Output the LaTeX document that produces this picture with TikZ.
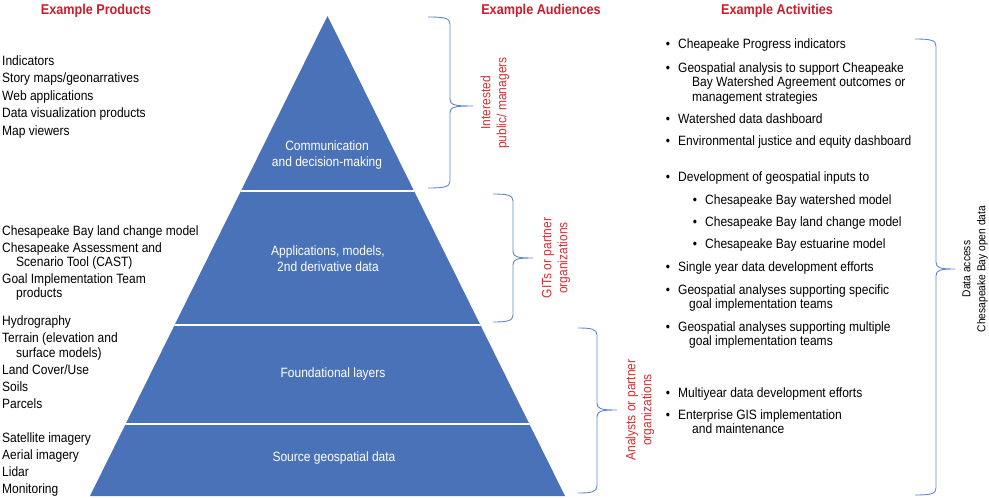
\documentclass[tikz,border=0pt]{standalone}
\usepackage{fontspec}
\setmainfont{Liberation Sans}[FakeStretch=0.89]
\definecolor{pyr}{RGB}{74,114,184}
\definecolor{hdr}{RGB}{200,30,45}
\definecolor{aud}{RGB}{212,48,52}
\definecolor{brc}{RGB}{95,135,205}
\newcommand{\mybrace}[6]{%
\draw[brace] (#1,#4) .. controls ({#2-6},#4) and (#2,{#4+1}) .. (#2,{#4+7}) -- (#2,{#5-7}) .. controls (#2,{#5-1}) and ({#2+4},#5) .. (#3,#5) .. controls ({#2+4},#5) and (#2,{#5+1}) .. (#2,{#5+7}) -- (#2,{#6-7}) .. controls (#2,{#6-1}) and ({#2-6},#6) .. (#1,#6);}
\tikzset{
  txt/.style={inner sep=0pt, anchor=base west, font=\fontsize{13.5}{16}\selectfont},
  head/.style={inner sep=0pt, anchor=base, text=hdr, font=\fontsize{14.2}{17}\selectfont\bfseries},
  layer/.style={inner sep=0pt, text=white, align=center, font=\fontsize{13.5}{16}\selectfont},
  aud/.style={inner sep=0pt, rotate=90, text=aud, align=center, font=\fontsize{13.5}{16}\selectfont},
  brace/.style={draw=brc, line width=0.9pt},
  bul/.style={inner sep=0pt, anchor=base, font=\fontsize{13.5}{16}\selectfont}
}
\begin{document}
\begin{tikzpicture}[x=1pt,y=-1pt]
\useasboundingbox (0,0) rectangle (989,498);
% pyramid
\coordinate (apex) at (327.5,16);
\coordinate (bl) at (90,496);
\coordinate (br) at (565,496);
\fill[pyr] (apex) -- (br) -- (bl) -- cycle;
\begin{scope}
\clip (apex) -- (br) -- (bl) -- cycle;
\draw[white, line width=2pt] (0,190.5) -- (989,190.5);
\draw[white, line width=2pt] (0,324.5) -- (989,324.5);
\draw[white, line width=2pt] (0,423.5) -- (989,423.5);
\end{scope}
\node[layer] (l1) at (327,155) {Communication\\and decision-making};
\node[layer] (l2) at (328,259) {Applications, models,\\2nd derivative data};
\node[layer] (l3) at (333,374) {Foundational layers};
\node[layer] (l4) at (334,458) {Source geospatial data};
% headers
\node[head] (h1) at (96,14) {Example Products};
\node[head] (h2) at (541,14) {Example Audiences};
\node[head] (h3) at (777,14) {Example Activities};
% left list
\node[txt] (p1) at (2,65) {Indicators};
\node[txt] (p2) at (2,82) {Story maps/geonarratives};
\node[txt] (p3) at (2,100) {Web applications};
\node[txt] (p4) at (2,117) {Data visualization products};
\node[txt] (p5) at (2,135) {Map viewers};
\node[txt] (p6) at (2,235) {Chesapeake Bay land change model};
\node[txt] (p7) at (2,252) {Chesapeake Assessment and};
\node[txt] (p7b) at (16,266) {Scenario Tool (CAST)};
\node[txt] (p8) at (2,283) {Goal Implementation Team};
\node[txt] (p8b) at (16,297) {products};
\node[txt] (p9) at (2,325) {Hydrography};
\node[txt] (p10) at (2,342) {Terrain (elevation and};
\node[txt] (p10b) at (16,357) {surface models)};
\node[txt] (p11) at (2,374) {Land Cover/Use};
\node[txt] (p12) at (2,391) {Soils};
\node[txt] (p13) at (2,408) {Parcels};
\node[txt] (p14) at (2,442) {Satellite imagery};
\node[txt] (p15) at (2,459) {Aerial imagery};
\node[txt] (p16) at (2,476) {Lidar};
\node[txt] (p17) at (2,493) {Monitoring};
% braces
\mybrace{428}{450}{473}{17}{106}{188}
\mybrace{493}{513}{533}{194}{258}{322}
\mybrace{578}{597}{617}{328}{410}{493}
\mybrace{915}{936}{955}{39}{269}{495}
% audiences
\node[aud] (a1) at (495,103) {Interested\\public/ managers};
\node[aud] (a2) at (556,258) {GITs or partner\\organizations};
\node[aud] (a3) at (640,410) {Analysts or partner\\organizations};
\node[aud, text=black, font=\fontsize{11.5}{15}\selectfont] (a4) at (975,269) {Data access\\Chesapeake Bay open data};
% right list
\foreach \y in {48,72,123,145,181,271,294,331,397,419} \node[bul] at (668,\y) {•};
\foreach \y in {204,226,248} \node[bul] at (695,\y) {•};
\node[txt] (r1) at (678,48) {Cheapeake Progress indicators};
\node[txt] (r2) at (678,72) {Geospatial analysis to support Cheapeake};
\node[txt] (r2b) at (692,86) {Bay Watershed Agreement outcomes or};
\node[txt] (r2c) at (692,101) {management strategies};
\node[txt] (r3) at (678,123) {Watershed data dashboard};
\node[txt] (r4) at (678,145) {Environmental justice and equity dashboard};
\node[txt] (r5) at (678,181) {Development of geospatial inputs to};
\node[txt] (r5a) at (705,204) {Chesapeake Bay watershed model};
\node[txt] (r5b) at (705,226) {Chesapeake Bay land change model};
\node[txt] (r5c) at (705,248) {Chesapeake Bay estuarine model};
\node[txt] (r6) at (678,271) {Single year data development efforts};
\node[txt] (r7) at (678,294) {Geospatial analyses supporting specific};
\node[txt] (r7b) at (689,308) {goal implementation teams};
\node[txt] (r8) at (678,331) {Geospatial analyses supporting multiple};
\node[txt] (r8b) at (689,345) {goal implementation teams};
\node[txt] (r9) at (678,397) {Multiyear data development efforts};
\node[txt] (r10) at (678,419) {Enterprise GIS implementation};
\node[txt] (r10b) at (692,433) {and maintenance};
\end{tikzpicture}
\end{document}
